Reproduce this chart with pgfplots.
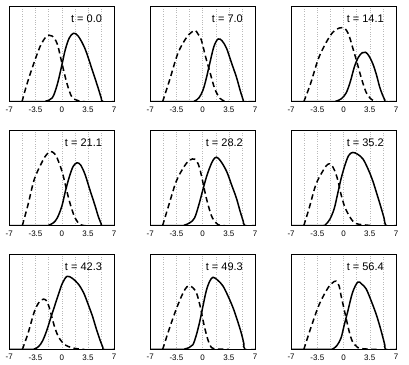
\documentclass[border=0pt]{standalone}
\usepackage{fontspec}
\setmainfont{Liberation Sans}
\usepackage{pgfplots}
\pgfplotsset{compat=1.18}
\usepgfplotslibrary{groupplots}
\usetikzlibrary{calc}

\pgfplotsset{
  dist/.style={
    width=105pt, height=95pt, scale only axis,
    xmin=-7, xmax=7, ymin=0, ymax=1,
    xtick={-7,-3.5,0,3.5,7}, xticklabels={-7,-3.5,0,3.5,7},
    minor x tick num=1, ytick=\empty,
    grid=both, major tick length=0pt, minor tick length=0pt,
    grid style={dotted, gray!55, line width=0.5pt},
    minor grid style={dotted, gray!55, line width=0.5pt},
    axis line style={line width=0.6pt},
    tick label style={font=\fontsize{8}{9}\selectfont},
    xticklabel style={yshift=-1.5pt},
    every axis plot/.append style={black, no markers, line width=1.5pt, smooth, tension=0.55},
  },
  den/.style={dash pattern=on 5.5pt off 3.5pt},
  sol/.style={solid},
}
\newcommand{\tlab}[1]{\node[anchor=east, font=\fontsize{11}{12}\selectfont, inner sep=0pt] at (rel axis cs:0.885,0.87) {#1};}

\begin{document}
\begin{tikzpicture}
\begin{groupplot}[group style={group size=3 by 3, horizontal sep=36pt, vertical sep=29pt}, dist]
% t = 0.0
\nextgroupplot
\coordinate (tl) at (rel axis cs:0,1);
\addplot[den] coordinates {(-5.3,0) (-4.74,0.16) (-4.09,0.32) (-3.43,0.47) (-2.78,0.60) (-2.13,0.68) (-1.7,0.70) (-1.26,0.69) (-0.61,0.61) (0.04,0.40) (0.7,0.19) (1.35,0.05) (2.2,0.01) (3.1,0)};
\addplot[sol] coordinates {(-7,0) (-2.6,0) (-2.13,0.005) (-1.26,0.04) (-0.6,0.18) (0,0.38) (0.48,0.55) (1.0,0.67) (1.57,0.72) (2.2,0.69) (3.09,0.56) (3.96,0.36) (4.83,0.15) (5.26,0.04) (5.5,0) (7,0)};
\tlab{t = 0.0}
% t = 7.0
\nextgroupplot
\addplot[den] coordinates {(-5.34,0) (-4.4,0.23) (-3.3,0.51) (-2.2,0.67) (-1.5,0.73) (-0.99,0.75) (-0.6,0.71) (-0.18,0.65) (0.4,0.47) (0.94,0.32) (1.6,0.14) (2.3,0.035) (3.0,0.005) (3.5,0)};
\addplot[sol] coordinates {(-7,0) (-1.6,0) (-1.1,0.005) (-0.5,0.04) (0.04,0.12) (0.5,0.25) (0.94,0.40) (1.5,0.58) (2.06,0.66) (2.6,0.64) (3.2,0.56) (3.8,0.42) (4.5,0.26) (5.0,0.12) (5.4,0.02) (5.55,0) (7,0)};
\tlab{t = 7.0}
% t = 14.1
\nextgroupplot
\addplot[den] coordinates {(-5.3,0) (-4.4,0.19) (-3.27,0.47) (-1.9,0.68) (-1.0,0.76) (-0.1,0.78) (0.4,0.75) (0.8,0.68) (1.25,0.56) (1.7,0.44) (2.15,0.31) (2.6,0.19) (3.0,0.10) (3.5,0.04) (4.0,0.01) (4.4,0)};
\addplot[sol] coordinates {(-7,0) (-1.5,0) (-1.0,0.005) (-0.3,0.03) (0.34,0.09) (0.9,0.21) (1.46,0.37) (2.0,0.47) (2.5,0.515) (2.95,0.52) (3.4,0.48) (3.9,0.40) (4.4,0.28) (4.8,0.16) (5.2,0.07) (5.5,0.02) (5.6,0) (7,0)};
\tlab{t = 14.1}
% t = 21.1
\nextgroupplot
\addplot[den] coordinates {(-5.26,0) (-4.5,0.22) (-3.65,0.49) (-2.56,0.68) (-2.0,0.75) (-1.48,0.78) (-1.0,0.76) (-0.61,0.71) (0.04,0.57) (0.48,0.43) (0.91,0.29) (1.35,0.17) (1.78,0.08) (2.43,0.01) (3.2,0)};
\addplot[sol] coordinates {(-7,0) (-2.2,0) (-1.7,0.005) (-1.1,0.03) (-0.6,0.08) (0,0.20) (0.48,0.36) (1.0,0.51) (1.5,0.62) (2.0,0.66) (2.5,0.64) (3.1,0.54) (3.7,0.39) (4.4,0.22) (4.9,0.09) (5.26,0.02) (5.4,0) (7,0)};
\tlab{t = 21.1}
% t = 28.2
\nextgroupplot
\addplot[den] coordinates {(-5.34,0) (-4.5,0.22) (-3.5,0.47) (-2.4,0.63) (-1.7,0.69) (-1.08,0.70) (-0.6,0.65) (-0.2,0.54) (0.15,0.41) (0.49,0.29) (0.9,0.17) (1.3,0.08) (2.06,0.01) (3,0)};
\addplot[sol] coordinates {(-7,0) (-2.9,0) (-2.4,0.005) (-1.7,0.03) (-1.08,0.08) (-0.5,0.22) (0.04,0.38) (0.5,0.51) (0.94,0.61) (1.4,0.69) (1.84,0.72) (2.4,0.68) (3.2,0.57) (3.9,0.42) (4.5,0.29) (5.0,0.15) (5.4,0.05) (5.65,0) (7,0)};
\tlab{t = 28.2}
% t = 35.2
\nextgroupplot
\addplot[den] coordinates {(-5.3,0) (-4.6,0.18) (-3.7,0.43) (-2.8,0.57) (-2.3,0.63) (-1.9,0.65) (-1.45,0.62) (-1.0,0.54) (-0.65,0.44) (-0.34,0.33) (0.1,0.21) (0.56,0.13) (1.1,0.06) (1.7,0.02) (3.0,0.005) (4.0,0)};
\addplot[sol] coordinates {(-7,0) (-2.9,0) (-2.4,0.01) (-1.8,0.07) (-1.24,0.18) (-0.8,0.33) (-0.34,0.49) (0.2,0.64) (0.7,0.74) (1.24,0.77) (1.9,0.75) (2.6,0.70) (3.3,0.59) (3.9,0.47) (4.5,0.32) (5.0,0.19) (5.4,0.08) (5.7,0) (7,0)};
\tlab{t = 35.2}
% t = 42.3
\nextgroupplot
\addplot[den] coordinates {(-5.26,0) (-4.5,0.17) (-3.65,0.40) (-3.0,0.50) (-2.43,0.53) (-2.0,0.51) (-1.7,0.45) (-1.35,0.35) (-1.04,0.26) (-0.6,0.16) (-0.17,0.10) (0.4,0.05) (0.9,0.03) (1.8,0.01) (3.0,0)};
\addplot[sol] coordinates {(-7,0) (-4.2,0) (-3.65,0.005) (-3.1,0.03) (-2.56,0.09) (-2.0,0.20) (-1.48,0.33) (-0.9,0.47) (-0.4,0.59) (0.1,0.70) (0.7,0.77) (1.4,0.75) (2.2,0.69) (2.9,0.60) (3.5,0.48) (4.1,0.35) (4.6,0.22) (5.1,0.10) (5.5,0.02) (5.6,0) (7,0)};
\tlab{t = 42.3}
% t = 49.3
\nextgroupplot
\addplot[den] coordinates {(-5.34,0) (-4.44,0.22) (-3.5,0.43) (-2.65,0.59) (-2.1,0.66) (-1.75,0.67) (-1.3,0.65) (-0.85,0.60) (-0.5,0.51) (-0.18,0.40) (0.15,0.27) (0.49,0.16) (0.8,0.08) (1.17,0.02) (1.6,0.005) (2.5,0.003) (3.5,0)};
\addplot[sol] coordinates {(-7,0) (-2.9,0) (-2.4,0.005) (-1.8,0.02) (-1.3,0.05) (-0.85,0.15) (-0.4,0.29) (0.05,0.46) (0.49,0.62) (0.95,0.72) (1.39,0.76) (2.0,0.73) (2.7,0.67) (3.4,0.56) (4.1,0.43) (4.7,0.29) (5.2,0.16) (5.5,0.06) (5.65,0) (7,0)};
\tlab{t = 49.3}
% t = 56.4
\nextgroupplot
\coordinate (br) at (rel axis cs:1,0);
\addplot[den] coordinates {(-5.3,0) (-4.4,0.22) (-3.27,0.47) (-2.14,0.64) (-1.5,0.70) (-1.0,0.72) (-0.6,0.67) (-0.34,0.57) (0,0.45) (0.34,0.33) (0.75,0.19) (1.15,0.09) (1.9,0.02) (3,0.005) (4.5,0)};
\addplot[sol] coordinates {(-7,0) (-2.0,0) (-1.46,0.005) (-0.9,0.04) (-0.34,0.12) (0.1,0.26) (0.56,0.40) (1.2,0.60) (1.9,0.71) (2.4,0.69) (3.0,0.64) (3.7,0.51) (4.4,0.36) (5.0,0.20) (5.5,0.05) (5.65,0) (7,0)};
\tlab{t = 56.4}
\end{groupplot}
\path ($(tl)+(-9.3pt,6.7pt)$) rectangle ($(br)+(13pt,-15.3pt)$);
\end{tikzpicture}
\end{document}
